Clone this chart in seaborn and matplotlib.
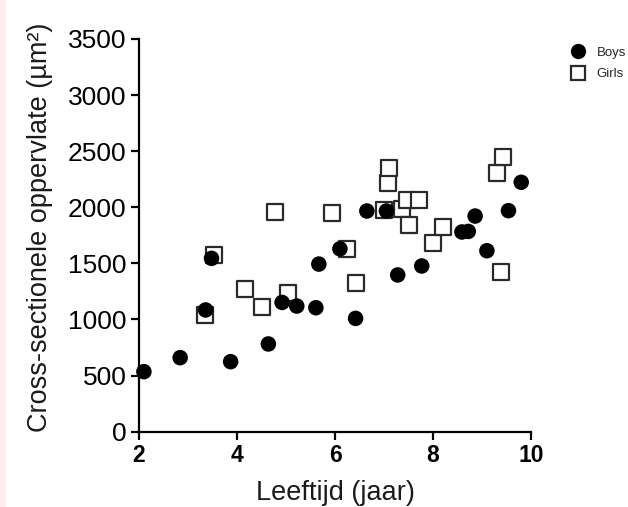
import matplotlib
matplotlib.use("Agg")
import matplotlib.pyplot as plt
import matplotlib.patches as mpatches
from matplotlib.lines import Line2D
import seaborn as sns
import pandas as pd

# Data
boys_age = [2.10, 2.84, 3.36, 3.48, 3.87, 4.64, 4.92, 5.22, 5.61, 5.67, 6.10,
            6.42, 6.65, 7.05, 7.28, 7.77, 8.59, 8.72, 8.86, 9.10, 9.54, 9.80]
boys_area = [535, 660, 1085, 1545, 624, 782, 1152, 1120, 1105, 1494, 1630,
             1010, 1967, 1967, 1397, 1477, 1780, 1785, 1922, 1613, 1970, 2223]
girls_age = [3.35, 3.53, 4.16, 4.50, 4.78, 5.05, 5.93, 6.24, 6.42, 7.01, 7.09,
             7.11, 7.36, 7.46, 7.50, 7.72, 8.01, 8.21, 9.30, 9.38, 9.42]
girls_area = [1040, 1575, 1272, 1109, 1955, 1235, 1947, 1628, 1323, 1976, 2214,
              2348, 1985, 2065, 1842, 2065, 1679, 1822, 2303, 1426, 2451]
x_ticks = [2, 4, 6, 8, 10]
y_ticks = [0, 500, 1000, 1500, 2000, 2500, 3000, 3500]
series_names = ["Boys", "Girls"]

df = pd.DataFrame({
    "age": boys_age + girls_age,
    "area": boys_area + girls_area,
    "group": [series_names[0]] * len(boys_age) + [series_names[1]] * len(girls_age),
})

sns.set_theme(style="ticks")
plt.rcParams["font.family"] = ["Liberation Sans", "DejaVu Sans"]

fig = plt.figure(figsize=(6.28, 5.07), dpi=100)
fig.patch.set_facecolor("white")
# pink strip at the left edge
fig.add_artist(mpatches.Rectangle((0, 0), 6 / 628, 1, transform=fig.transFigure,
                                  facecolor="#fdebed", edgecolor="none", zorder=0))

ax = fig.add_axes([139 / 628, 1 - 431.7 / 507, 392 / 628, 392.7 / 507])

girls_df = df[df["group"] == "Girls"]
boys_df = df[df["group"] == "Boys"]
sns.scatterplot(data=girls_df, x="age", y="area", marker="s", s=118,
                facecolor="white", edgecolor="#2a2a2a", linewidth=1.6,
                ax=ax, clip_on=False, zorder=3, legend=False)
sns.scatterplot(data=boys_df, x="age", y="area", marker="o", s=125,
                color="black", edgecolor="none", linewidth=0,
                ax=ax, clip_on=False, zorder=4, legend=False)

ax.set_xlim(2, 10)
ax.set_ylim(0, 3500)
ax.set_xticks(x_ticks)
ax.set_yticks(y_ticks)
ax.set_xticklabels([str(t) for t in x_ticks], fontsize=16.5, fontweight="bold")
ax.set_yticklabels([str(t) for t in y_ticks], fontsize=19)
ax.tick_params(axis="both", direction="out", length=6, width=1.6, color="black",
               labelcolor="black", pad=3)
for side in ["left", "bottom"]:
    ax.spines[side].set_linewidth(1.6)
    ax.spines[side].set_color("black")
sns.despine(ax=ax)

ax.set_xlabel("Leeftijd (jaar)", fontsize=19.5, color="#1a1a1a", labelpad=9)
ax.set_ylabel("Cross-sectionele oppervlate (µm²)", fontsize=19.5, color="#1a1a1a",
              labelpad=10)
ax.yaxis.set_label_coords(-0.22, 0.52)

handles = [
    Line2D([], [], marker="o", linestyle="none", markersize=11, color="black",
           markeredgewidth=0),
    Line2D([], [], marker="s", linestyle="none", markersize=10.5,
           markerfacecolor="white", markeredgecolor="#2a2a2a", markeredgewidth=1.6),
]
fig.legend(handles, series_names, loc="upper left",
           bbox_to_anchor=(563 / 628, 1 - 40 / 507), frameon=False, fontsize=9.5,
           borderpad=0, handlelength=1.2, handletextpad=0.85, labelspacing=0.7)

fig.savefig("out.png", dpi=100)
